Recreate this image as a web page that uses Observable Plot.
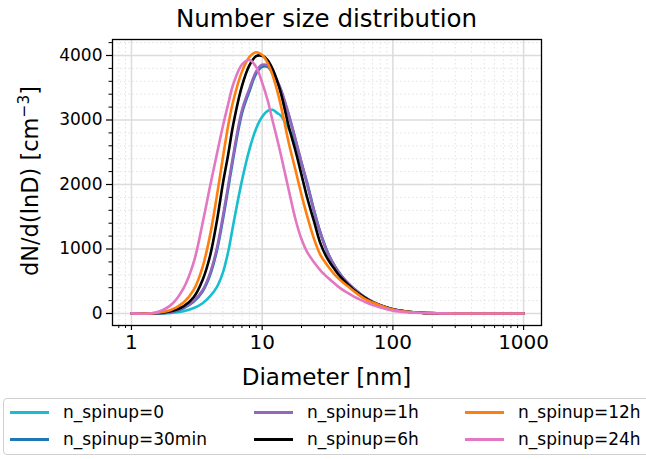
<!DOCTYPE html>
<html><head><meta charset="utf-8">
<script src="https://cdn.jsdelivr.net/npm/d3@7"></script>
<script src="https://cdn.jsdelivr.net/npm/@observablehq/plot@0.6"></script>
<style>
body{margin:0;background:#fff;font-family:"DejaVu Sans",sans-serif;color:#000;}
#wrap{position:relative;width:646px;height:459px;overflow:hidden;background:#fff;}
#chart{position:absolute;left:0;top:0;}
.lbl{position:absolute;white-space:nowrap;line-height:1;}
#title{left:0;width:653px;text-align:center;top:7px;font-size:24.5px;}
#xlabel{left:0;width:653px;text-align:center;top:366px;font-size:23px;}
#ylabel{left:30px;top:181px;font-size:22.5px;transform:translate(-50%,-50%) rotate(-90deg);}
#ylabel sup{font-size:15.5px;vertical-align:9px;line-height:0;}
#legend{position:absolute;left:3px;top:398px;width:650px;height:57px;border:1.3px solid #d0d0d0;border-radius:4px;box-sizing:border-box;background:#fff;}
.item{position:absolute;font-size:17px;line-height:1;display:flex;align-items:center;}
.sw{display:inline-block;width:39px;height:3px;margin-right:14px;}
</style></head><body>
<div id="wrap">
  <div id="chart"></div>
  <div id="title" class="lbl">Number size distribution</div>
  <div id="xlabel" class="lbl">Diameter [nm]</div>
  <div id="ylabel" class="lbl">dN/d(lnD) [cm<sup>−3</sup>]</div>
  <div id="legend"></div>
</div>
<script>
const diameters = [1, 1.5, 2, 2.5, 3, 3.5, 4, 4.5, 5, 5.5, 6, 7, 8, 9, 10, 11, 12, 13, 14, 16, 18, 20, 22, 25, 28, 32, 36, 40, 45, 50, 60, 70, 80, 100, 130, 170, 220, 300, 500, 1000];
const n_0     = [0, 1, 10, 35, 85, 160, 270, 410, 630, 960, 1370, 2060, 2550, 2870, 3050, 3140, 3158, 3110, 3060, 2860, 2650, 2330, 2040, 1595, 1245, 930, 733, 598, 477, 391, 263, 181, 130, 66, 27, 10, 3, 1, 0, 0];
const n_30min = [1, 2, 20, 80, 185, 340, 600, 970, 1450, 1940, 2400, 3100, 3450, 3720, 3825, 3825, 3725, 3600, 3450, 3070, 2690, 2330, 2020, 1580, 1238, 922, 728, 594, 474, 389, 262, 180, 129, 66, 27, 10, 3, 1, 0, 0];
const n_1h    = [1, 3, 25, 90, 200, 360, 630, 1010, 1500, 1990, 2450, 3150, 3490, 3754, 3856, 3845, 3760, 3620, 3460, 3080, 2700, 2340, 2030, 1585, 1240, 925, 730, 595, 475, 390, 262, 180, 130, 66, 27, 10, 3, 1, 0, 0];
const n_6h    = [1, 4, 35, 110, 255, 520, 900, 1430, 2010, 2470, 2925, 3525, 3851, 3991, 3995, 3930, 3793, 3610, 3394, 2895, 2520, 2150, 1810, 1420, 1080, 830, 680, 560, 455, 370, 255, 175, 128, 65, 27, 10, 3, 1, 0, 0];
const n_12h   = [1, 6, 55, 170, 370, 720, 1220, 1820, 2410, 2920, 3290, 3750, 3980, 4050, 4007, 3884, 3696, 3462, 3196, 2640, 2220, 1840, 1525, 1150, 900, 730, 600, 510, 425, 350, 235, 170, 125, 62, 25, 10, 3, 1, 0, 0];
const n_24h   = [2, 10, 130, 390, 800, 1400, 1980, 2470, 2900, 3250, 3550, 3860, 3930, 3820, 3580, 3310, 2992, 2712, 2434, 1906, 1457, 1150, 960, 790, 665, 550, 460, 385, 320, 265, 188, 130, 95, 45, 20, 8, 3, 1, 0, 0];

const seriesNames  = ["n_spinup=0", "n_spinup=30min", "n_spinup=1h", "n_spinup=6h", "n_spinup=12h", "n_spinup=24h"];
const seriesColors = ["#17becf", "#1f77b4", "#9467bd", "#000000", "#ff7f0e", "#e377c2"];
const seriesValues = [n_0, n_30min, n_1h, n_6h, n_12h, n_24h];

const xTicks = [1, 10, 100, 1000];
const xMinorTicks = [0.8, 0.9, 2, 3, 4, 5, 6, 7, 8, 9, 20, 30, 40, 50, 60, 70, 80, 90, 200, 300, 400, 500, 600, 700, 800, 900];
const yTicks = [0, 1000, 2000, 3000, 4000];
const yMinorTicks = [200, 400, 600, 800, 1200, 1400, 1600, 1800, 2200, 2400, 2600, 2800, 3200, 3400, 3600, 3800, 4200];

const rows = seriesNames.map((name, i) => diameters.map((d, j) => ({d, v: seriesValues[i][j], s: name})));

const lineMarks = rows.map((r, i) => Plot.line(r, {x: "d", y: "v", stroke: seriesColors[i], strokeWidth: 2.6, curve: "catmull-rom"}));

const chart = Plot.plot({
  width: 646, height: 392,
  marginLeft: 112, marginRight: 105, marginTop: 39, marginBottom: 67,
  style: {fontFamily: "DejaVu Sans", background: "transparent", color: "#000", overflow: "visible"},
  x: {type: "log", domain: [0.716, 1371]},
  y: {domain: [-186, 4248]},
  marks: [
    Plot.gridX(xMinorTicks, {stroke: "#e3e3e3", strokeOpacity: 1, strokeWidth: 1, strokeDasharray: "1.5,2.5"}),
    Plot.gridY(yMinorTicks, {stroke: "#e3e3e3", strokeOpacity: 1, strokeWidth: 1, strokeDasharray: "1.5,2.5"}),
    Plot.gridX(xTicks, {stroke: "#dcdcdc", strokeOpacity: 1, strokeWidth: 1.5}),
    Plot.gridY(yTicks, {stroke: "#dcdcdc", strokeOpacity: 1, strokeWidth: 1.5}),
    ...lineMarks,
    Plot.frame({stroke: "#000", strokeWidth: 1.3}),
    Plot.axisX(xTicks, {tickSize: 5, tickPadding: 4, fontSize: 20, tickFormat: d => String(d), label: null, strokeWidth: 1.2}),
    Plot.axisX(xMinorTicks, {tickSize: 3, tickFormat: () => "", label: null, strokeWidth: 1}),
    Plot.axisY(yTicks, {tickSize: 6, tickPadding: 4, fontSize: 17, tickFormat: d => String(d), label: null, strokeWidth: 1.2}),
    Plot.axisY(yMinorTicks, {tickSize: 3.5, tickFormat: () => "", label: null, strokeWidth: 1})
  ]
});
document.getElementById("chart").appendChild(chart);

const legend = document.getElementById("legend");
const colX = [6, 250, 461];
seriesNames.forEach((name, i) => {
  const col = Math.floor(i / 2), row = i % 2;
  const it = document.createElement("div");
  it.className = "item";
  it.style.left = colX[col] + "px";
  it.style.top = (4 + row * 27) + "px";
  it.style.height = "18px";
  const sw = document.createElement("span");
  sw.className = "sw";
  sw.style.background = seriesColors[i];
  const tx = document.createElement("span");
  tx.textContent = name;
  it.appendChild(sw); it.appendChild(tx);
  legend.appendChild(it);
});
</script>
</body></html>
